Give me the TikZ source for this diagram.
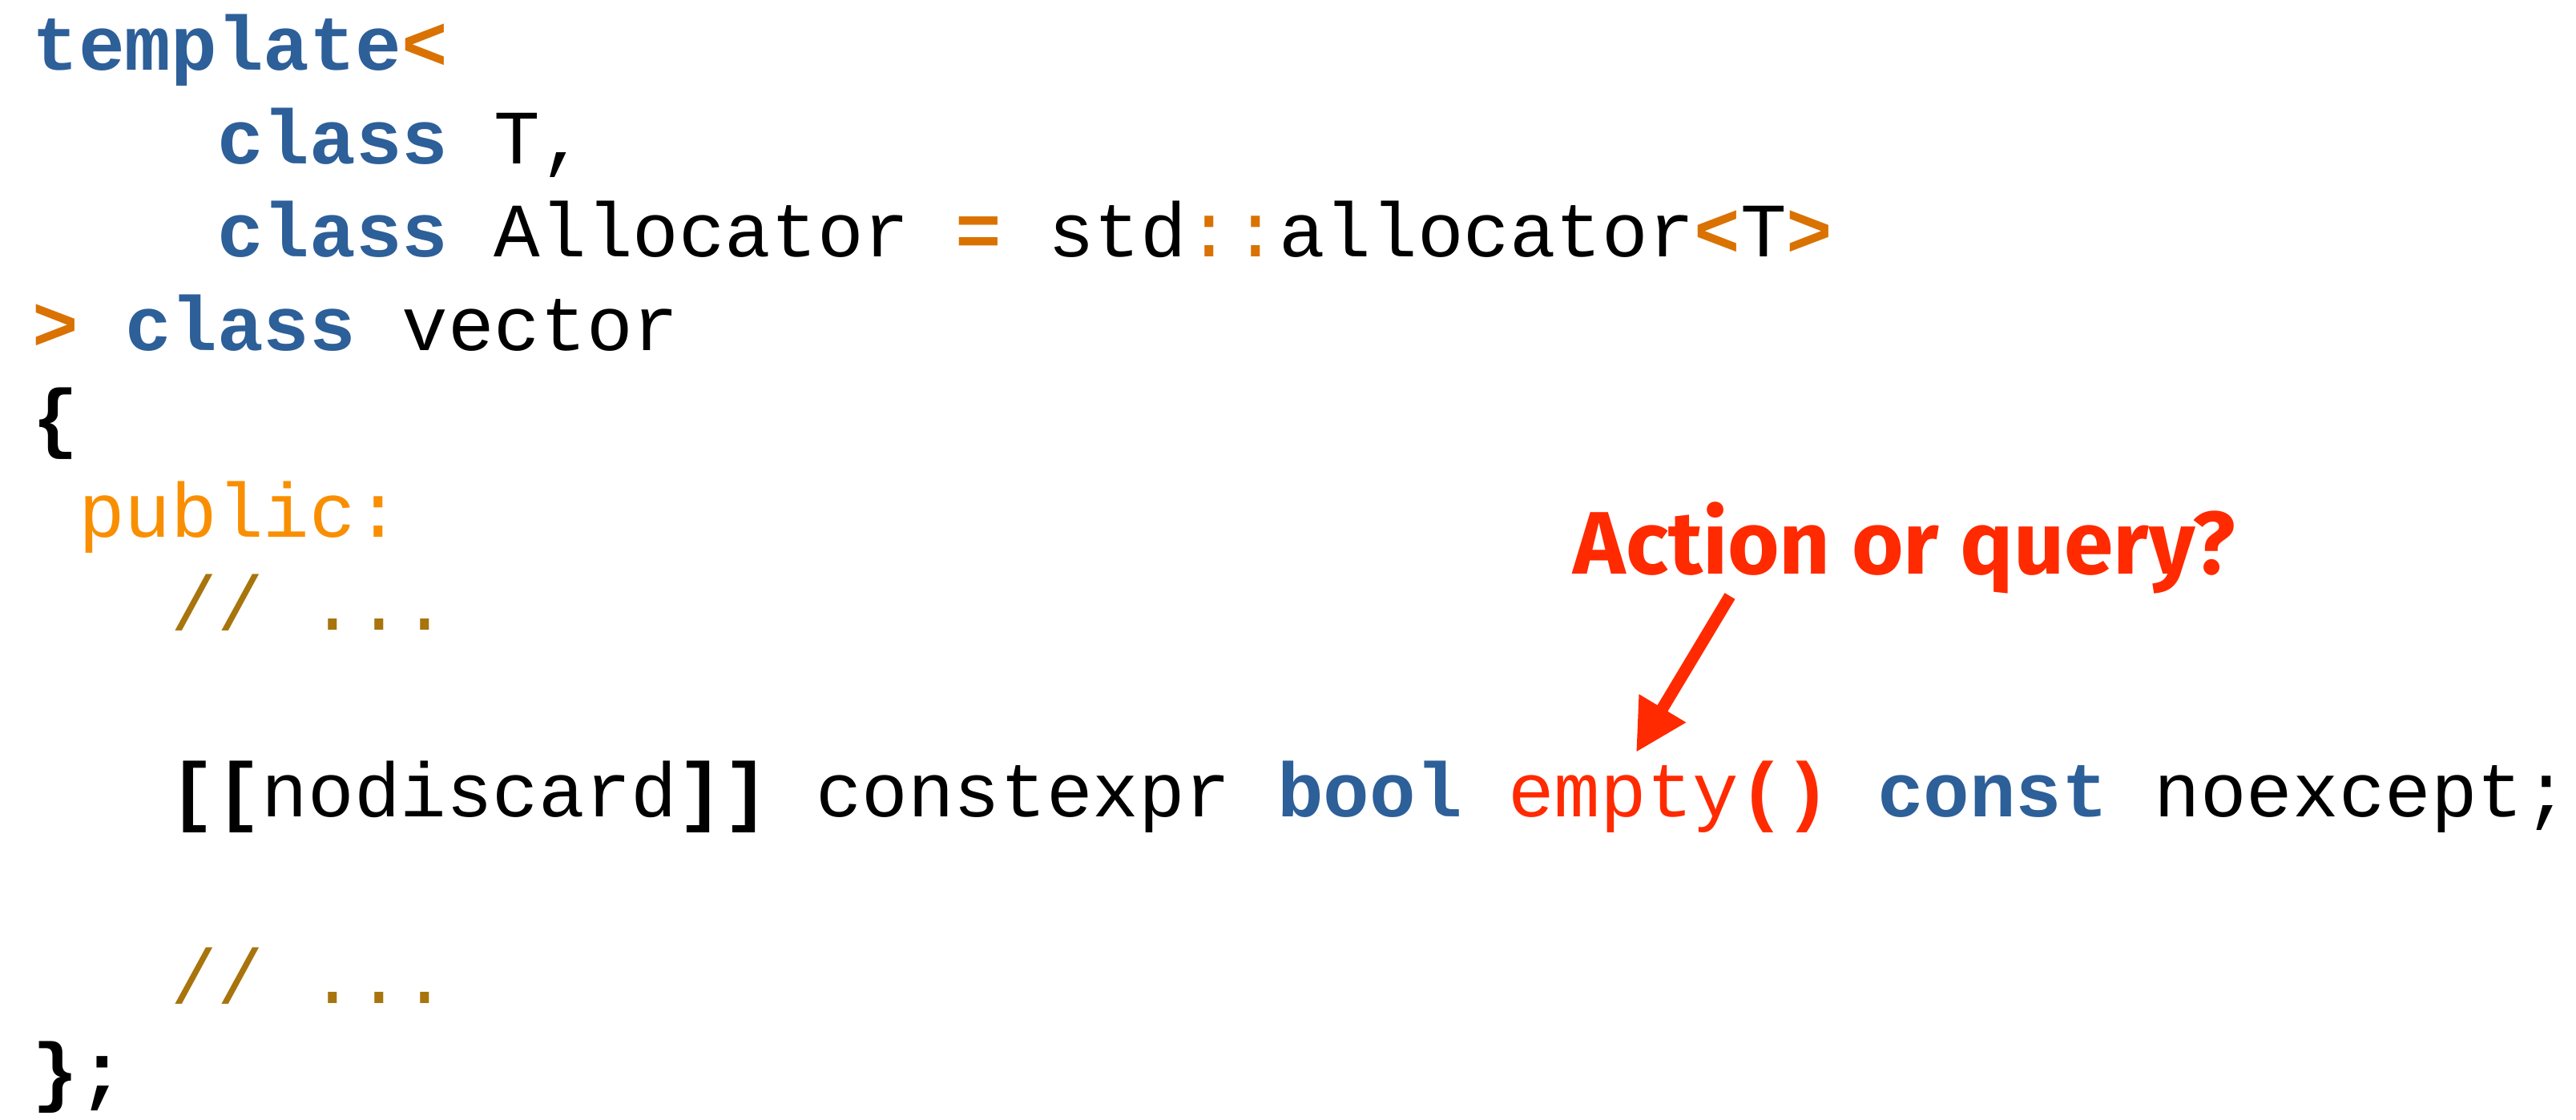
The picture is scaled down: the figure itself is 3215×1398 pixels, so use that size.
\documentclass[tikz,border=0pt]{standalone}
\usepackage{fontspec}
\usetikzlibrary{arrows.meta}
\newfontfamily\codefont{Liberation Mono}
\newfontfamily\annfont{Fira Sans}
\definecolor{kwblue}{HTML}{2D5F99}
\definecolor{opor}{HTML}{D97200}
\definecolor{pubor}{HTML}{F98F00}
\definecolor{cmtc}{HTML}{A8740C}
\definecolor{redc}{HTML}{FF2A00}
\newcommand{\cKw}[1]{{\bfseries\color{kwblue}#1}}
\newcommand{\cOpB}[1]{{\bfseries\color{opor}#1}}
\newcommand{\cOp}[1]{{\color{opor}#1}}
\newcommand{\cBk}[1]{{\bfseries #1}}
\newcommand{\cCm}[1]{{\color{cmtc}#1}}
\begin{document}
\begin{tikzpicture}[x=0.25pt,y=-0.25pt,
  code/.style={anchor=base west, inner sep=0pt, font=\codefont\fontsize{24pt}{29pt}\selectfont},
  ann/.style={anchor=base west, inner sep=0pt, text=redc, font=\annfont\bfseries\fontsize{27.7pt}{33pt}\selectfont},
  pointer/.style={line width=3.75pt, draw=redc, -{Triangle[length=16pt,width=16pt,fill=redc]}}]
\useasboundingbox[fill=white] (0,0) rectangle (3215,1398);
\node[code] (l1) at (40,88) {\cKw{template}\cOpB{<}};
\node[code] (l2) at (270.4,204.5) {\cKw{class} T,};
\node[code] (l3) at (270.4,321) {\cKw{class} Allocator \cOpB{=} std\cOp{::}allocator\cOpB{<}T\cOpB{>}};
\node[code] (l4) at (40,437.5) {\cOpB{>} \cKw{class} vector};
\node[code] (l5) at (40,554) {\cBk{\{}};
\node[code] (l6) at (97.6,670.5) {\color{pubor}public:};
\node[code] (l7) at (212.8,787) {\cCm{// ...}};
\node[code] (l9) at (210.8,1020) {\cBk{[[}nodiscard\cBk{]]} constexpr \cKw{bool} {\color{redc}empty}{\bfseries\color{redc}()} \cKw{const} noexcept;};
\node[code] (l11) at (212.8,1253) {\cCm{// ...}};
\node[code] (l12) at (40,1369.5) {\cBk{\};}};
\node[ann] (q) at (1963,717) {Action or query?};
\coordinate (astart) at (2159,744);
\coordinate (atip) at (2042,939);
\draw[pointer] (astart) -- (atip);
\end{tikzpicture}
\end{document}
